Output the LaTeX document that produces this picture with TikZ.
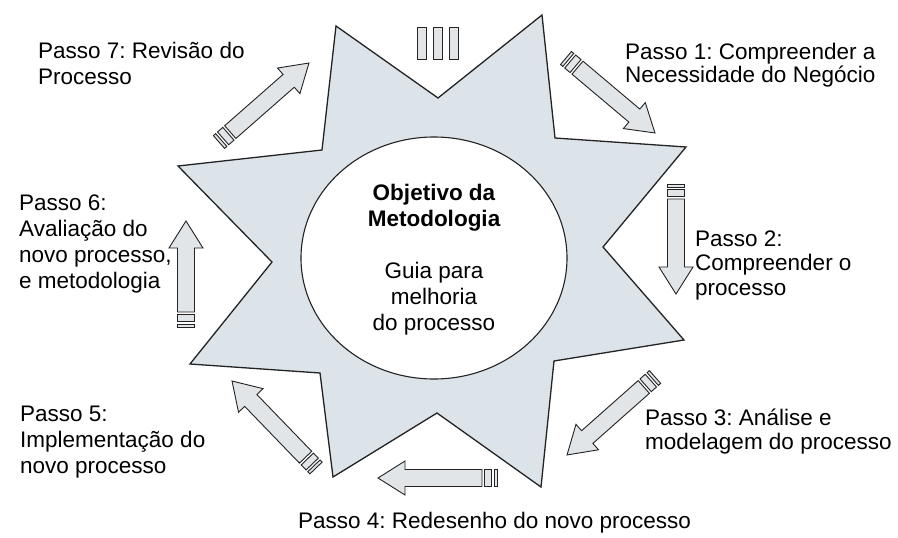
\documentclass[tikz,border=0pt]{standalone}
\usepackage{fontspec}
\setmainfont{Liberation Sans}
\usetikzlibrary{calc,shapes.geometric}
\frenchspacing
\definecolor{starfill}{RGB}{221,228,233}
\definecolor{arrfill}{RGB}{225,229,232}
\definecolor{edge}{RGB}{35,35,35}
\tikzset{
  starshape/.style={draw=edge, line width=1.3pt, fill=starfill, line join=miter},
  arrowbody/.style={draw=edge, line width=0.9pt, fill=arrfill, line join=miter},
  lbl/.style={anchor=base west, inner sep=0pt},
  ctr/.style={anchor=base, inner sep=0pt},
}
\newcommand\striparrow[2]{%
  \pgfpointdiff{\pgfpointanchor{#1}{center}}{\pgfpointanchor{#2}{center}}%
  \pgfgetlastxy\sdx\sdy
  \pgfmathsetmacro\sang{atan2(\sdy,\sdx)}%
  \pgfmathsetmacro\slen{veclen(\sdx,\sdy)}%
  \begin{scope}[shift={(#1)}, rotate=\sang, x=1pt, y=1pt]
    \draw[arrowbody] (0,-8.5) rectangle (3,8.5);
    \draw[arrowbody] (5.5,-8.5) rectangle (12.5,8.5);
    \draw[arrowbody] (15,-8.5) -- ({\slen-27},-8.5) -- ({\slen-27},-17) -- (\slen,0)
      -- ({\slen-27},17) -- ({\slen-27},8.5) -- (15,8.5) -- cycle;
  \end{scope}}
\begin{document}
\begin{tikzpicture}[x=1pt, y=-1pt]
\useasboundingbox[fill=white] (0,0) rectangle (898,538);
% star
\draw[starshape] (336,26) -- (438,98) -- (542,15) -- (555,138) -- (686,147) -- (603,247)
  -- (684,340) -- (554,361) -- (541,487) -- (437,413) -- (333,477) -- (320,373)
  -- (190,364) -- (272,262) -- (178,166) -- (322,150) -- cycle;
% centre ellipse
\node[draw=edge, line width=1.1pt, fill=white, ellipse, minimum width=266pt, minimum height=242pt, inner sep=0pt] (goal) at (434,258) {};
\node[ctr] (goaltext) at (434,200) {\fontsize{22.5}{26}\selectfont
  \begin{tabular}[t]{@{}c@{}}\bfseries Objetivo da\\\bfseries Metodologia\\ \\ Guia para\\melhoria\\do processo\end{tabular}};
% top stripes
\draw[arrowbody] (417,27) rectangle (426,59);
\draw[arrowbody] (433,27) rectangle (442,59);
\draw[arrowbody] (449,27) rectangle (458,59);
% arrow endpoints
\coordinate (t1) at (566,58);  \coordinate (h1) at (655,133);
\coordinate (t2) at (676,184); \coordinate (h2) at (676,294);
\coordinate (t3) at (655,377); \coordinate (h3) at (567,455);
\coordinate (t4) at (497,478); \coordinate (h4) at (378,478);
\coordinate (t5) at (316,468); \coordinate (h5) at (232,381);
\coordinate (t6) at (186,327); \coordinate (h6) at (186,221);
\coordinate (t7) at (219,142); \coordinate (h7) at (309,63);
\striparrow{t1}{h1}
\striparrow{t2}{h2}
\striparrow{t3}{h3}
\striparrow{t4}{h4}
\striparrow{t5}{h5}
\striparrow{t6}{h6}
\striparrow{t7}{h7}
% labels
\node[lbl] (p1) at (625,59) {\fontsize{22.5}{24}\selectfont
  \begin{tabular}[t]{@{}l@{}}Passo 1: Compreender a\\Necessidade do Negócio\end{tabular}};
\node[lbl] (p2) at (695,246) {\fontsize{22.5}{24.5}\selectfont
  \begin{tabular}[t]{@{}l@{}}Passo 2:\\Compreender o\\processo\end{tabular}};
\node[lbl] (p3) at (645,425) {\fontsize{22.5}{24}\selectfont
  \begin{tabular}[t]{@{}l@{}}Passo 3: Análise e\\modelagem do processo\end{tabular}};
\node[lbl] (p4) at (298,528) {\fontsize{22.5}{24}\selectfont Passo 4: Redesenho do novo processo};
\node[lbl] (p5) at (20,421) {\fontsize{22.5}{26}\selectfont
  \begin{tabular}[t]{@{}l@{}}Passo 5:\\Implementação do\\novo processo\end{tabular}};
\node[lbl] (p6) at (19,210) {\fontsize{22.5}{26}\selectfont
  \begin{tabular}[t]{@{}l@{}}Passo 6:\\Avaliação do\\novo processo,\\e metodologia\end{tabular}};
\node[lbl] (p7) at (38,58) {\fontsize{22.5}{26}\selectfont
  \begin{tabular}[t]{@{}l@{}}Passo 7: Revisão do\\Processo\end{tabular}};
\end{tikzpicture}
\end{document}
